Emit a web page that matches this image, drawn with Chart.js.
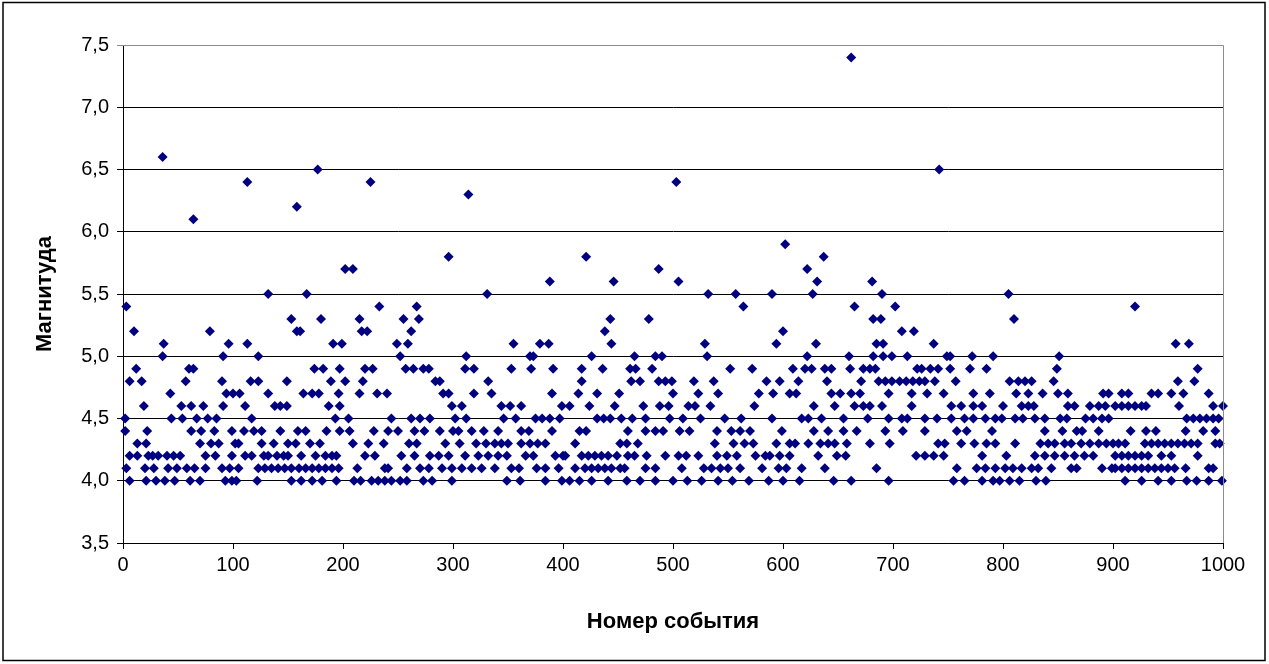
<!DOCTYPE html>
<html>
<head>
<meta charset="utf-8">
<script src="https://cdn.jsdelivr.net/npm/chart.js@4"></script>
<style>
  html, body { margin: 0; padding: 0; background: #fff; }
  #wrap { width: 1269px; height: 664px; }
</style>
</head>
<body>
<div id="wrap"><canvas id="chart-scatter" width="1269" height="664"></canvas></div>
<script>
// номера событий для каждой магнитуды
const mag74 = [662];
const mag66 = [36];
const mag65 = [177, 742];
const mag64 = [113, 225, 503];
const mag63 = [314];
const mag62 = [158];
const mag61 = [64];
const mag59 = [602];
const mag58 = [296, 421, 637];
const mag57 = [202, 209, 487, 622];
const mag56 = [388, 446, 505, 631, 681];
const mag55 = [132, 167, 331, 532, 557, 590, 627, 690, 805];
const mag54 = [3, 233, 267, 564, 665, 702, 920];
const mag53 = [153, 180, 215, 255, 269, 443, 478, 682, 689, 810];
const mag52 = [10, 79, 158, 161, 217, 222, 262, 438, 600, 708, 719];
const mag51 = [37, 96, 113, 191, 199, 249, 259, 355, 379, 387, 444, 529, 594, 630, 685, 691, 737, 957, 969];
const mag50 = [36, 91, 123, 252, 312, 370, 373, 426, 465, 484, 490, 531, 622, 660, 682, 691, 699,
  713, 749, 752, 772, 791, 851];
const mag49 = [12, 60, 64, 174, 182, 197, 220, 227, 257, 264, 273, 278, 311, 319, 353, 371, 391,
  417, 436, 461, 466, 481, 552, 572, 609, 620, 626, 638, 644, 661, 673, 679, 684,
  722, 726, 734, 741, 752, 770, 785, 849, 977];
const mag48 = [6, 17, 57, 90, 116, 123, 149, 189, 202, 218, 284, 288, 332, 417, 462, 470, 487, 493, 499,
  519, 537, 585, 597, 614, 640, 671, 687, 693, 699, 706, 712, 718, 724, 729, 738, 757,
  806, 814, 820, 826, 846, 959, 974];
const mag47 = [43, 94, 100, 106, 132, 164, 172, 178, 196, 215, 231, 240, 291, 296, 319, 335, 390,
  414, 431, 451, 500, 523, 541, 578, 591, 606, 612, 644, 652, 662, 670, 696,
  717, 731, 746, 773, 788, 812, 823, 836, 850, 859, 891, 896, 908, 914, 935, 941, 953, 964, 987];
const mag46 = [19, 53, 62, 73, 91, 111, 138, 143, 149, 187, 197, 299, 308, 344, 352, 362, 399,
  406, 424, 447, 473, 488, 496, 514, 520, 534, 574, 628, 647, 665, 673, 679, 690,
  717, 753, 762, 773, 781, 800, 817, 823, 828, 859, 865, 879, 887, 893,
  902, 908, 914, 920, 926, 930, 960, 991, 1000];
const mag45 = [2, 44, 54, 67, 77, 85, 117, 193, 205, 244, 262, 270, 279, 302, 312, 346, 357, 375, 381, 388, 397,
  431, 437, 443, 453, 463, 475, 497, 509, 525, 547, 562, 590, 617, 623, 635, 655, 677, 696,
  708, 713, 729, 740, 753, 765, 773, 784, 793, 799, 811, 818, 829, 838, 852, 858, 875, 882, 890, 896,
  967, 973, 979, 985, 991, 996];
const mag44 = [2, 22, 62, 71, 83, 99, 110, 119, 126, 143, 159, 166, 185, 197, 206, 228, 241, 250, 265, 274, 288, 300,
  305, 317, 328, 341, 362, 369, 390, 415, 421, 459, 475, 484, 491, 506, 515, 540, 553, 561, 570, 599,
  628, 641, 655, 667, 693, 709, 729, 758, 767, 790, 838, 854, 867, 872, 887, 916, 930, 939, 966, 982, 993];
const mag43 = [13, 21, 70, 80, 87, 102, 105, 126, 137, 150, 157, 170, 179, 209, 223, 237, 260, 267, 293,
  306, 321, 330, 338, 344, 350, 362, 370, 377, 384, 411, 452, 458, 468, 538, 555, 565, 573, 594,
  606, 611, 623, 634, 641, 647, 658, 679, 697, 741, 747, 762, 774, 785, 793,
  811, 834, 841, 847, 856, 862, 871, 879, 887, 894, 900, 905, 911, 929, 935, 941, 947, 953, 959, 965, 971, 977, 993, 997];
const mag42 = [6, 13, 23, 27, 32, 40, 46, 52, 75, 84, 99, 111, 117, 128, 132, 140, 146, 150, 162, 175, 184, 190,
  194, 220, 229, 253, 265, 279, 287, 296, 311, 323, 332, 341, 349, 366, 373, 393, 400,
  402, 417, 423, 429, 435, 441, 449, 459, 465, 476, 493, 505, 512, 523, 540, 549, 558, 575, 584, 588, 597,
  606, 632, 649, 657, 721, 729, 737, 746, 781, 803, 829, 838, 847, 856, 865, 874, 882,
  902, 908, 914, 920, 926, 932, 944, 953, 977];
const mag41 = [3, 20, 28, 41, 49, 58, 65, 75, 90, 97, 105, 123, 129, 135, 141, 147, 153, 160, 166, 172, 178, 184, 190, 196,
  213, 238, 241, 258, 270, 278, 290, 299, 308, 317, 326, 338, 353, 360, 376, 384, 396,
  411, 420, 426, 432, 438, 444, 452, 456, 475, 484, 508, 528, 535, 543, 550, 561, 581, 596,
  603, 617, 638, 685, 758, 776, 784, 793, 802, 809, 817, 826, 832, 844, 862, 867, 890, 899,
  902, 908, 914, 920, 926, 932, 938, 944, 950, 956, 966, 987, 991];
const mag40 = [6, 21, 30, 38, 47, 61, 70, 93, 99, 103, 122, 153, 162, 172, 181, 194,
  210, 216, 226, 232, 238, 244, 252, 258, 273, 281, 299, 349, 361, 384,
  399, 406, 415, 426, 441, 458, 470, 484, 500, 513, 526, 541, 554, 569, 587, 600,
  615, 646, 662, 696, 755, 765, 781, 791, 797, 806, 815, 830, 839,
  911, 926, 941, 953, 967, 976, 987, 999];

const magnitudeRows = [
  [4.0, mag40], [4.1, mag41], [4.2, mag42], [4.3, mag43], [4.4, mag44], [4.5, mag45],
  [4.6, mag46], [4.7, mag47], [4.8, mag48], [4.9, mag49], [5.0, mag50], [5.1, mag51],
  [5.2, mag52], [5.3, mag53], [5.4, mag54], [5.5, mag55], [5.6, mag56], [5.7, mag57],
  [5.8, mag58], [5.9, mag59], [6.1, mag61], [6.2, mag62], [6.3, mag63], [6.4, mag64],
  [6.5, mag65], [6.6, mag66], [7.4, mag74],
];

const points = [];
magnitudeRows.forEach(([m, events]) => {
  events.forEach((n) => points.push({ x: n, y: m }));
});

const FONT = "'Liberation Sans', Arial, sans-serif";

// рамка вокруг всей картинки и серая граница области построения
const framePlugin = {
  id: "frame",
  afterDatasetsDraw(chart) {
    const { ctx, chartArea } = chart;
    ctx.save();
    ctx.strokeStyle = "#8c8c8c";
    ctx.lineWidth = 1;
    ctx.beginPath();
    ctx.moveTo(chartArea.left, chartArea.top + 0.5);
    ctx.lineTo(chartArea.right + 0.5, chartArea.top + 0.5);
    ctx.lineTo(chartArea.right + 0.5, chartArea.bottom);
    ctx.stroke();
    ctx.restore();
  },
  afterDraw(chart) {
    const { ctx } = chart;
    ctx.save();
    ctx.strokeStyle = "#000";
    ctx.lineWidth = 1.5;
    ctx.strokeRect(3, 2.5, 1262, 658);
    ctx.restore();
  },
};

const ctx = document.getElementById("chart-scatter").getContext("2d");

new Chart(ctx, {
  type: "scatter",
  data: {
    datasets: [
      {
        label: "",
        data: points,
        pointStyle: "rectRot",
        pointRadius: 5,
        pointHoverRadius: 5,
        backgroundColor: "#000080",
        borderColor: "#000080",
        borderWidth: 0,
        clip: false,
      },
    ],
  },
  options: {
    responsive: false,
    animation: false,
    events: [],
    layout: { padding: { top: 45, right: 46, bottom: 0, left: 0 } },
    plugins: {
      legend: { display: false },
      tooltip: { enabled: false },
    },
    scales: {
      x: {
        type: "linear",
        min: 0,
        max: 1000,
        afterFit: (scale) => { scale.height = 121; },
        ticks: {
          stepSize: 100,
          color: "#000",
          padding: 4,
          maxRotation: 0,
          font: { family: FONT, size: 20 },
          callback: (v) => String(v),
        },
        grid: {
          drawOnChartArea: false,
          drawTicks: true,
          tickLength: 6,
          color: "#000",
        },
        border: { display: true, color: "#000", width: 1 },
        title: {
          display: true,
          text: "Номер события",
          color: "#000",
          font: { family: FONT, size: 22, weight: "bold" },
          padding: { top: 0, bottom: 29 },
        },
      },
      y: {
        type: "linear",
        min: 3.5,
        max: 7.5,
        afterFit: (scale) => { scale.width = 123; },
        ticks: {
          stepSize: 0.5,
          color: "#000",
          padding: 8,
          font: { family: FONT, size: 20 },
          callback: (v) => v.toFixed(1).replace(".", ","),
        },
        grid: {
          drawTicks: true,
          tickLength: 6,
          color: (c) => (c.tick && c.tick.value === 7.5 ? "#8c8c8c" : "#000"),
          lineWidth: 1,
        },
        border: { display: true, color: "#000", width: 1 },
        title: {
          display: true,
          text: "Магнитуда",
          color: "#000",
          font: { family: FONT, size: 22, weight: "bold" },
          padding: { top: 32, bottom: 0 },
        },
      },
    },
  },
  plugins: [framePlugin],
});
</script>
</body>
</html>
